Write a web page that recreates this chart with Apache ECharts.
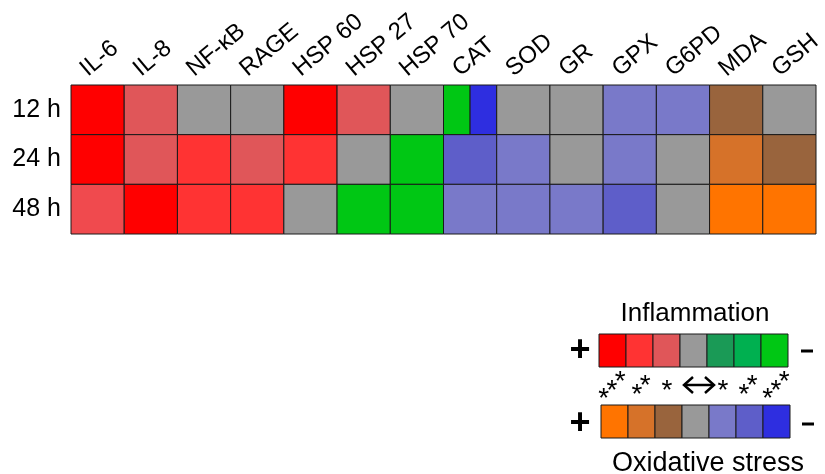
<!DOCTYPE html>
<html><head><meta charset="utf-8">
<script src="https://cdn.jsdelivr.net/npm/echarts@6/dist/echarts.min.js"></script>
<style>html,body{margin:0;padding:0;background:#fff}#c{width:825px;height:474px}</style>
</head><body><div id="c"></div>
<script>
const categories = ['IL-6','IL-8','NF-κB','RAGE','HSP 60','HSP 27','HSP 70','CAT','SOD','GR','GPX','G6PD','MDA','GSH'];
const times = ['12 h','24 h','48 h'];
// cell codes: I = inflammation level, O = oxidative stress level, 0 = no change, "a|b" = split cell
const row12h = ['I+3','I+1','0','0','I+3','I+1','0','I-3|O-3','0','0','O-1','O-1','O+1','0'];
const row24h = ['I+3','I+1','I+2','I+1','I+2','0','I-3','O-2','O-1','0','O-1','0','O+2','O+1'];
const row48h = ['I+1.5','I+3','I+2','I+2','0','I-3','I-3','O-1','O-1','O-1','O-2','0','O+3','O+3'];
const inflammationColors = ['#FF0000','#FF3333','#E05659','#999999','#1A9A56','#00B050','#00C714'];
const oxidativeColors = ['#FF7400','#D67229','#99643D','#999999','#7979C9','#5E5EC9','#2E2EE0'];
const legendLevels = ['+3','+2','+1','0','-1','-2','-3'];
const extraColors = {'I+1.5':'#F04A4E'};

function colorOf(code){
  if (extraColors[code]) return extraColors[code];
  if (code === '0') return '#999999';
  const lvl = code.slice(1);
  const idx = legendLevels.indexOf(lvl);
  return code[0] === 'I' ? inflammationColors[idx] : oxidativeColors[idx];
}
const rows = [row12h, row24h, row48h];
const cellData = [], cellColors = [];
rows.forEach((row, yi) => row.forEach((code, xi) => {
  const parts = code.split('|');
  parts.forEach((p, pi) => {
    const part = parts.length === 1 ? 0 : pi + 1;
    cellData.push([xi, yi, part]);
    cellColors.push(colorOf(p));
  });
}));

const chart = echarts.init(document.getElementById('c'));
const font = 'Liberation Sans, Arial, sans-serif';
const G = [];
// legend bars
const barW = 27, barH = 33;
function bar(x0, y0, colors){
  colors.forEach((c, i) => G.push({type:'rect', shape:{x:x0 + i*barW, y:y0, width:barW, height:barH},
    style:{fill:c, stroke:'#1a1a1a', lineWidth:1}}));
}
bar(599, 334, inflammationColors);
bar(601, 405, oxidativeColors);
G.push({type:'text', x:695, y:314, style:{text:'Inflammation', font:'26px ' + font, fill:'#000', align:'center', verticalAlign:'middle'}});
G.push({type:'text', x:708, y:464, style:{text:'Oxidative stress', font:'27px ' + font, fill:'#000', align:'center', verticalAlign:'middle'}});
[[580,351,'+'],[580,424,'+']].forEach(p => G.push({type:'text', x:p[0], y:p[1], style:{text:p[2], font:'bold 36px ' + font, fill:'#000', align:'center', verticalAlign:'middle'}}));
[[807,351],[808,424]].forEach(p => G.push({type:'rect', shape:{x:p[0]-6, y:p[1]-1.5, width:12, height:3}, style:{fill:'#000'}}));
// significance stars
const starGroups = [[612,3],[641,2],[667,1],[723,1],[748,2],[776,3]];
starGroups.forEach(([cx, n]) => {
  for (let k = 0; k < n; k++) {
    const off = (k - (n-1)/2) * 11.5;
    G.push({type:'text', x:cx + off*0.72, y:391 - off*0.75, style:{text:'*', font:'28px ' + font, fill:'#000', align:'center', verticalAlign:'middle'}});
  }
});
G.push({type:'line', shape:{x1:685, y1:385, x2:713, y2:385}, style:{stroke:'#000', lineWidth:2.5}});
G.push({type:'polyline', shape:{points:[[693,377],[684,385],[693,393]]}, style:{stroke:'#000', lineWidth:2.5, fill:null}});
G.push({type:'polyline', shape:{points:[[705,377],[714,385],[705,393]]}, style:{stroke:'#000', lineWidth:2.5, fill:null}});

const gridTop = 85;
chart.setOption({
  animation:false,
  grid:[{left:71, top:gridTop, width:745, height:149}],
  xAxis:[
    {type:'category', data:categories, axisLine:{show:false}, axisTick:{show:false}, axisLabel:{show:false}}
  ],
  yAxis:[
    {type:'category', data:times, inverse:true, axisLine:{show:false}, axisTick:{show:false},
     axisLabel:{fontSize:25, fontFamily:font, color:'#000', margin:10}}
  ],
  series:[{
    type:'custom', data:cellData,
    renderItem:(params, api) => {
      const c = api.coord([api.value(0), api.value(1)]);
      const s = api.size([1,1]);
      const part = api.value(2);
      let x = c[0] - s[0]/2, w = s[0];
      if (part === 1) w = s[0]/2;
      else if (part === 2) { x = c[0]; w = s[0]/2; }
      return {type:'rect', shape:{x:x, y:c[1]-s[1]/2, width:w, height:s[1]},
        style:{fill:cellColors[params.dataIndex], stroke:'#1a1a1a', lineWidth:1}};
    }
  }],
  graphic:G
});

// rotated column labels, placed at the category positions given by the x axis
const rot = 40 * Math.PI / 180;
const labelEls = categories.map((name, i) => {
  const px = chart.convertToPixel({xAxisIndex:0}, name);
  return {type:'text', x:px - 14, y:gridTop - 13, rotation:rot,
    style:{text:name, font:'24px ' + font, fill:'#000', align:'left', verticalAlign:'middle'}};
});
chart.setOption({graphic:G.concat(labelEls)});
</script></body></html>
